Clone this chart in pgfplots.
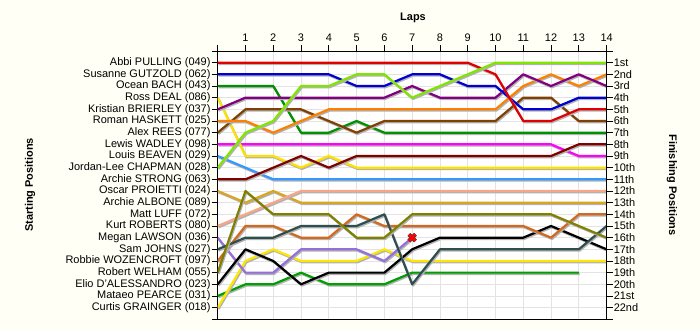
\documentclass[border=0pt]{standalone}
\usepackage{pgfplots}
\pgfplotsset{compat=1.18}
\usepackage{fontspec}
\setmainfont{Liberation Sans}
\definecolor{bgc}{RGB}{255,255,245}
\definecolor{cRed}{RGB}{225,0,0}
\definecolor{cBlue}{RGB}{0,0,210}
\definecolor{cGreen}{RGB}{0,145,0}
\definecolor{cYellow}{RGB}{255,225,0}
\definecolor{cPurple}{RGB}{128,0,128}
\definecolor{cOrange}{RGB}{255,128,0}
\definecolor{cBrown}{RGB}{128,64,0}
\definecolor{cMagenta}{RGB}{255,0,255}
\definecolor{cLightBlue}{RGB}{51,153,255}
\definecolor{cLime}{RGB}{128,230,0}
\definecolor{cDarkRed}{RGB}{128,0,0}
\definecolor{cGold}{RGB}{218,165,32}
\definecolor{cSalmon}{RGB}{250,165,135}
\definecolor{cLavender}{RGB}{147,112,219}
\definecolor{cSlate}{RGB}{47,79,79}
\definecolor{cSienna}{RGB}{210,105,30}
\definecolor{cOlive}{RGB}{128,128,0}
\definecolor{cGreenB}{RGB}{0,160,0}
\definecolor{cYellowB}{RGB}{255,230,0}
\pgfplotsset{
  lap/.style={line width=2.2bp, no marks, line join=round,
    preaction={draw=black!30, line width=2.2bp, transform canvas={xshift=0.9bp,yshift=-1.3bp}}},
  common/.style={
    scale only axis, width=388.9bp, height=268.3bp,
    xmin=0, xmax=14, ymin=0, ymax=23, y dir=reverse,
    tick align=outside, major tick length=6bp,
    every tick/.style={black, line width=0.8bp},
    axis line style={black, line width=0.8bp},
    tick label style={font=\fontsize{11}{13}\selectfont},
    /pgf/number format/assume math mode=true,
  }
}
\begin{document}
\begin{tikzpicture}[x=1bp,y=1bp]
\path[use as bounding box, fill=bgc] (-217.7,-10.7) rectangle (482.3,319.3);
\begin{axis}[common, at={(0,0)}, anchor=south west,
  axis background/.style={fill=white},
  grid=major, grid style={gray!22, line width=0.7bp},
  xtick={0,...,14}, xticklabels={,1,2,3,4,5,6,7,8,9,10,11,12,13,14},
  xtick pos=top, xticklabel pos=top,
  ytick={0,...,23}, ytick pos=left,
  yticklabels={,Abbi PULLING (049),Susanne GUTZOLD (062),Ocean BACH (043),Ross DEAL (086),Kristian BRIERLEY (037),Roman HASKETT (025),Alex REES (077),Lewis WADLEY (098),Louis BEAVEN (029),Jordan-Lee CHAPMAN (028),Archie STRONG (063),Oscar PROIETTI (024),Archie ALBONE (089),Matt LUFF (072),Kurt ROBERTS (080),Megan LAWSON (036),Sam JOHNS (027),Robbie WOZENCROFT (097),Robert WELHAM (055),Elio D'ALESSANDRO (023),Mataeo PEARCE (031),Curtis GRAINGER (018),},
  yticklabel style={inner sep=1bp},
]
% Magenta
\addplot[lap, cMagenta] coordinates {(0,8)(1,8)(2,8)(3,8)(4,8)(5,8)(6,8)(7,8)(8,8)(9,8)(10,8)(11,8)(12,8)(13,9)(14,9)};
% Light blue
\addplot[lap, cLightBlue] coordinates {(0,9)(1,10)(2,11)(3,11)(4,11)(5,11)(6,11)(7,11)(8,11)(9,11)(10,11)(11,11)(12,11)(13,11)(14,11)};
% Goldenrod
\addplot[lap, cGold] coordinates {(0,12)(1,13)(2,12)(3,13)(4,13)(5,13)(6,13)(7,13)(8,13)(9,13)(10,13)(11,13)(12,13)(13,13)(14,13)};
% Salmon
\addplot[lap, cSalmon] coordinates {(0,15)(1,14)(2,13)(3,12)(4,12)(5,12)(6,12)(7,12)(8,12)(9,12)(10,12)(11,12)(12,12)(13,12)(14,12)};
% Yellow (DEAL)
\addplot[lap, cYellow] coordinates {(0,4)(1,9)(2,9)(3,10)(4,9)(5,10)(6,10)(7,10)(8,10)(9,10)(10,10)(11,10)(12,10)(13,10)(14,10)};
% Dark red
\addplot[lap, cDarkRed] coordinates {(0,11)(1,11)(2,10)(3,9)(4,10)(5,9)(6,9)(7,9)(8,9)(9,9)(10,9)(11,9)(12,9)(13,8)(14,8)};
% Green (BACH)
\addplot[lap, cGreen] coordinates {(0,3)(1,3)(2,3)(3,7)(4,7)(5,6)(6,7)(7,7)(8,7)(9,7)(10,7)(11,7)(12,7)(13,7)(14,7)};
% Brown
\addplot[lap, cBrown] coordinates {(0,7)(1,5)(2,5)(3,5)(4,6)(5,7)(6,6)(7,6)(8,6)(9,6)(10,6)(11,4)(12,4)(13,6)(14,6)};
% Orange
\addplot[lap, cOrange] coordinates {(0,6)(1,6)(2,7)(3,6)(4,5)(5,5)(6,5)(7,5)(8,5)(9,5)(10,5)(11,3)(12,2)(13,3)(14,2)};
% Purple
\addplot[lap, cPurple] coordinates {(0,5)(1,4)(2,4)(3,4)(4,4)(5,4)(6,4)(7,3)(8,4)(9,4)(10,4)(11,2)(12,3)(13,2)(14,3)};
% Blue
\addplot[lap, cBlue] coordinates {(0,2)(1,2)(2,2)(3,2)(4,2)(5,3)(6,3)(7,2)(8,2)(9,3)(10,3)(11,5)(12,5)(13,4)(14,4)};
% Red
\addplot[lap, cRed] coordinates {(0,1)(1,1)(2,1)(3,1)(4,1)(5,1)(6,1)(7,1)(8,1)(9,1)(10,2)(11,6)(12,6)(13,5)(14,5)};
% Lime
\addplot[lap, cLime] coordinates {(0,10)(1,7)(2,6)(3,3)(4,3)(5,2)(6,2)(7,4)(8,3)(9,2)(10,1)(11,1)(12,1)(13,1)(14,1)};
% Green B (PEARCE)
\addplot[lap, cGreenB] coordinates {(0,21)(1,20)(2,20)(3,19)(4,20)(5,20)(6,20)(7,19)(8,19)(9,19)(10,19)(11,19)(12,19)(13,19)};
% Yellow B (GRAINGER)
\addplot[lap, cYellowB] coordinates {(0,22)(1,18)(2,17)(3,18)(4,18)(5,18)(6,17)(7,18)(8,18)(9,18)(10,18)(11,18)(12,18)(13,18)(14,18)};
% Lavender
\addplot[lap, cLavender] coordinates {(0,16)(1,19)(2,19)(3,17)(4,17)(5,17)(6,18)(7,16)};
% Black
\addplot[lap, black] coordinates {(0,20)(1,17)(2,18)(3,20)(4,19)(5,19)(6,19)(7,17)(8,16)(9,16)(10,16)(11,16)(12,15)(13,16)(14,17)};
% Sienna
\addplot[lap, cSienna] coordinates {(0,18)(1,15)(2,15)(3,16)(4,16)(5,14)(6,15)(7,15)(8,15)(9,15)(10,15)(11,15)(12,16)(13,14)(14,14)};
% Slate
\addplot[lap, cSlate] coordinates {(0,17)(1,16)(2,16)(3,15)(4,15)(5,15)(6,14)(7,20)(8,17)(9,17)(10,17)(11,17)(12,17)(13,17)(14,15)};
% Olive
\addplot[lap, cOlive] coordinates {(0,19)(1,12)(2,14)(3,14)(4,14)(5,16)(6,16)(7,14)(8,14)(9,14)(10,14)(11,14)(12,14)(13,15)(14,16)};
% Crash marker
\addplot[only marks, mark=x, mark size=4.6bp, black!75, line width=4bp] coordinates {(7,16)};
\addplot[only marks, mark=x, mark size=4.6bp, red, line width=2.6bp] coordinates {(7,16)};
\end{axis}
\begin{axis}[common, at={(0,0)}, anchor=south west,
  hide x axis, axis y line*=right,
  ytick={0,...,23},
  yticklabels={,1st,2nd,3rd,4th,5th,6th,7th,8th,9th,10th,11th,12th,13th,14th,15th,16th,17th,18th,19th,20th,21st,22nd,},
  yticklabel style={inner sep=1bp},
]
\addplot[draw=none] coordinates {(0,0)};
\end{axis}
\node[font=\bfseries\fontsize{11}{13}\selectfont] at (195.3,301.3) {Laps};
\node[font=\bfseries\fontsize{11}{13}\selectfont, rotate=90] at (-187.7,134.3) {Starting Positions};
\node[font=\bfseries\fontsize{11}{13}\selectfont, rotate=-90] at (454.3,134.3) {Finishing Positions};
\end{tikzpicture}
\end{document}
